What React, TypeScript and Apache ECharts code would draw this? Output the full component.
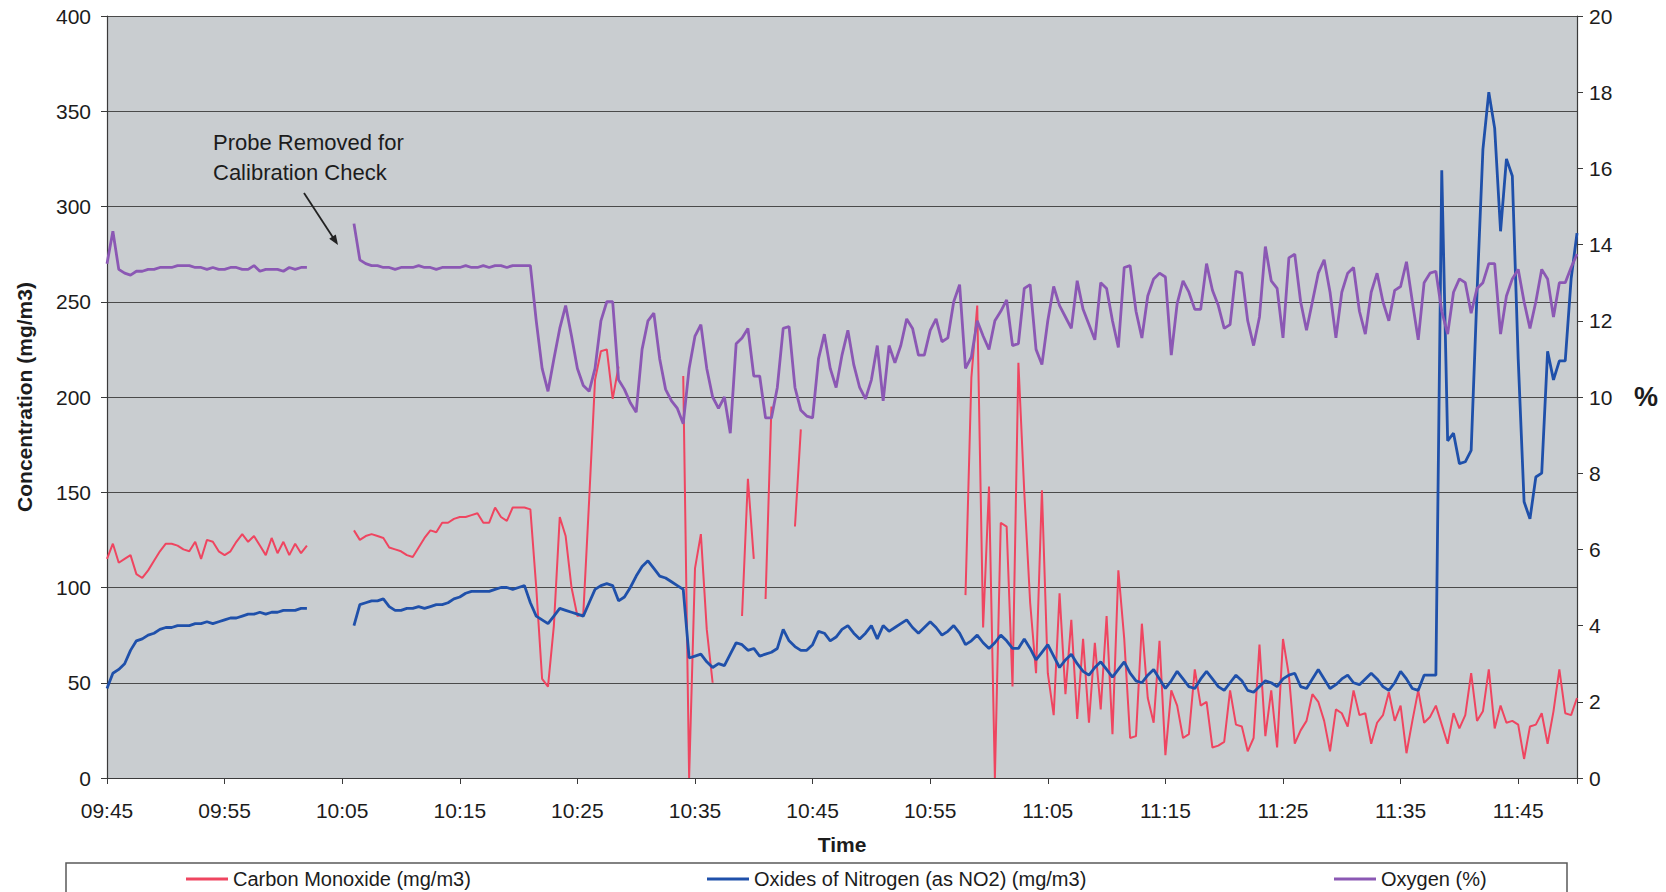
import React, { useEffect, useRef } from 'react';
import * as echarts from 'echarts';

// Readings every 30 seconds starting at 09:45 (index k -> k * 0.5 minutes after 09:45)
const SAMPLE_STEP_MIN = 0.5;
const AXIS_MAX_MIN = 125;

const timeLabels = ['09:45', '09:55', '10:05', '10:15', '10:25', '10:35', '10:45', '10:55', '11:05', '11:15', '11:25', '11:35', '11:45'];

const seriesNames = ['Carbon Monoxide (mg/m3)', 'Oxides of Nitrogen (as NO2) (mg/m3)', 'Oxygen (%)'];

// Carbon Monoxide (mg/m3), left axis
const carbonMonoxide: (number | null)[] = [
  115, 123, 113, 115, 117, 107, 105, 109, 114, 119,
  123, 123, 122, 120, 119, 124, 115, 125, 124, 119,
  117, 119, 124, 128, 124, 127, 122, 117, 126, 118,
  124, 117, 123, 118, 122, null, null, null, null, null,
  null, null, 130, 125, 127, 128, 127, 126, 121, 120,
  119, 117, 116, 121, 126, 130, 129, 134, 134, 136,
  137, 137, 138, 139, 134, 134, 142, 137, 135, 142,
  142, 142, 141, 100, 52, 48, 80, 137, 127, 100,
  85, 86, 146, 209, 224, 225, 199, 216, null, null,
  null, null, null, null, null, null, null, null, 211, 0,
  110, 128, 78, 50, null, null, null, null, 85, 157,
  115, null, 94, 195, null, null, null, 132, 183, null,
  null, null, null, null, null, null, null, null, null, null,
  null, null, null, null, null, null, null, null, null, null,
  null, null, null, null, null, null, 96, 210, 248, 79,
  153, 0, 134, 132, 48, 218, 150, 92, 55, 151,
  55, 33, 97, 44, 83, 31, 73, 29, 71, 36,
  85, 23, 109, 73, 21, 22, 81, 42, 29, 72,
  12, 46, 38, 21, 23, 57, 38, 40, 16, 17,
  19, 46, 28, 27, 14, 21, 70, 22, 46, 16,
  73, 54, 18, 25, 30, 44, 40, 30, 14, 36,
  34, 27, 46, 33, 34, 18, 29, 33, 45, 30,
  38, 13, 30, 46, 29, 32, 38, 28, 18, 34,
  26, 33, 55, 30, 35, 57, 26, 38, 29, 30,
  28, 10, 27, 28, 34, 18, 35, 57, 34, 33,
  42,
];

// Oxides of Nitrogen as NO2 (mg/m3), left axis
const nitrogenOxides: (number | null)[] = [
  47, 55, 57, 60, 67, 72, 73, 75, 76, 78,
  79, 79, 80, 80, 80, 81, 81, 82, 81, 82,
  83, 84, 84, 85, 86, 86, 87, 86, 87, 87,
  88, 88, 88, 89, 89, null, null, null, null, null,
  null, null, 80, 91, 92, 93, 93, 94, 90, 88,
  88, 89, 89, 90, 89, 90, 91, 91, 92, 94,
  95, 97, 98, 98, 98, 98, 99, 100, 100, 99,
  100, 101, 92, 85, 83, 81, 85, 89, 88, 87,
  86, 85, 92, 99, 101, 102, 101, 93, 95, 100,
  106, 111, 114, 110, 106, 105, 103, 101, 99, 63,
  64, 65, 61, 58, 60, 59, 65, 71, 70, 67,
  68, 64, 65, 66, 68, 78, 72, 69, 67, 67,
  70, 77, 76, 72, 74, 78, 80, 76, 73, 76,
  80, 73, 80, 77, 79, 81, 83, 79, 76, 79,
  82, 79, 75, 77, 80, 76, 70, 72, 75, 71,
  68, 71, 75, 72, 68, 68, 73, 68, 62, 66,
  70, 64, 58, 62, 65, 60, 56, 54, 58, 61,
  57, 53, 57, 61, 55, 51, 50, 54, 57, 52,
  47, 51, 56, 52, 48, 47, 52, 56, 52, 48,
  46, 50, 54, 51, 46, 45, 48, 51, 50, 48,
  52, 54, 55, 48, 47, 52, 57, 52, 47, 49,
  52, 54, 50, 49, 52, 55, 52, 48, 46, 50,
  56, 52, 47, 46, 54, 54, 54, 319, 177, 181,
  165, 166, 172, 255, 330, 360, 341, 287, 325, 316,
  220, 145, 136, 158, 160, 224, 209, 219, 219, 262,
  286,
];

// Oxygen (%), right axis
const oxygenPct: (number | null)[] = [
  13.5, 14.35, 13.35, 13.25, 13.2, 13.3, 13.3, 13.35, 13.35, 13.4,
  13.4, 13.4, 13.45, 13.45, 13.45, 13.4, 13.4, 13.35, 13.4, 13.35,
  13.35, 13.4, 13.4, 13.35, 13.35, 13.45, 13.3, 13.35, 13.35, 13.35,
  13.3, 13.4, 13.35, 13.4, 13.4, null, null, null, null, null,
  null, null, 14.55, 13.6, 13.5, 13.45, 13.45, 13.4, 13.4, 13.35,
  13.4, 13.4, 13.4, 13.45, 13.4, 13.4, 13.35, 13.4, 13.4, 13.4,
  13.4, 13.45, 13.4, 13.4, 13.45, 13.4, 13.45, 13.45, 13.4, 13.45,
  13.45, 13.45, 13.45, 12, 10.75, 10.15, 11, 11.8, 12.4, 11.6,
  10.75, 10.3, 10.15, 10.75, 12, 12.5, 12.5, 10.45, 10.2, 9.85,
  9.6, 11.25, 12, 12.2, 11, 10.2, 9.9, 9.7, 9.3, 10.75,
  11.6, 11.9, 10.75, 10, 9.7, 10, 9.05, 11.4, 11.55, 11.8,
  10.55, 10.55, 9.45, 9.45, 10.25, 11.8, 11.85, 10.25, 9.65, 9.5,
  9.45, 11, 11.65, 10.75, 10.25, 11.1, 11.75, 10.85, 10.25, 9.95,
  10.45, 11.35, 9.9, 11.35, 10.9, 11.35, 12.05, 11.8, 11.1, 11.1,
  11.75, 12.05, 11.45, 11.55, 12.5, 12.95, 10.75, 11.05, 12, 11.6,
  11.25, 12, 12.25, 12.55, 11.35, 11.4, 12.85, 12.95, 11.25, 10.85,
  12, 12.9, 12.4, 12.1, 11.8, 13.05, 12.3, 11.9, 11.5, 13,
  12.85, 12, 11.3, 13.4, 13.45, 12.25, 11.55, 12.65, 13.1, 13.25,
  13.15, 11.1, 12.45, 13.05, 12.75, 12.3, 12.3, 13.5, 12.8, 12.4,
  11.8, 11.9, 13.3, 13.25, 12, 11.35, 12.1, 13.95, 13.05, 12.85,
  11.55, 13.65, 13.75, 12.5, 11.75, 12.5, 13.25, 13.6, 12.75, 11.55,
  12.75, 13.25, 13.4, 12.25, 11.65, 12.75, 13.25, 12.5, 12, 12.8,
  12.9, 13.55, 12.5, 11.5, 13, 13.25, 13.3, 12.25, 11.65, 12.75,
  13.1, 13, 12.2, 12.85, 13, 13.5, 13.5, 11.65, 12.65, 13.1,
  13.35, 12.5, 11.8, 12.5, 13.35, 13.1, 12.1, 13, 13, 13.4,
  13.75,
];

const FONT = "'Liberation Sans', Arial, Helvetica, sans-serif";
const TEXT_COLOR = '#1c1c1c';
const AXIS_COLOR = '#3a3a3a';

const toPairs = (values: (number | null)[]) =>
  values.map((v, k) => [k * SAMPLE_STEP_MIN, v == null ? '-' : v]);

export default function App() {
  const ref = useRef<HTMLDivElement>(null);

  useEffect(() => {
    if (!ref.current) return;
    const chart = echarts.init(ref.current, null, { renderer: 'svg' });

    const legendBase = {
      orient: 'horizontal',
      top: 869,
      padding: 0,
      icon: 'rect',
      itemWidth: 42,
      itemHeight: 3,
      selectedMode: false,
      textStyle: { fontSize: 20, color: TEXT_COLOR, fontFamily: FONT },
    };

    chart.setOption({
      animation: false,
      backgroundColor: '#ffffff',
      textStyle: { fontFamily: FONT },
      grid: {
        left: 107,
        right: 89,
        top: 16,
        bottom: 114,
        show: true,
        backgroundColor: '#c9cdd0',
        borderWidth: 0,
      },
      xAxis: {
        type: 'value',
        min: 0,
        max: AXIS_MAX_MIN,
        interval: 10,
        axisLine: { show: true, lineStyle: { color: AXIS_COLOR, width: 1.2 } },
        axisTick: { show: true, length: 6, lineStyle: { color: AXIS_COLOR } },
        axisLabel: {
          fontSize: 21,
          color: TEXT_COLOR,
          margin: 22,
          formatter: (v: number) => {
            const idx = Math.round(v / 10);
            return Math.abs(v - idx * 10) < 1e-6 && idx < timeLabels.length ? timeLabels[idx] : '';
          },
        },
        splitLine: { show: false },
        name: 'Time',
        nameLocation: 'middle',
        nameGap: 56,
        nameTextStyle: { fontSize: 21, fontWeight: 'bold', color: TEXT_COLOR },
      },
      yAxis: [
        {
          type: 'value',
          min: 0,
          max: 400,
          interval: 50,
          position: 'left',
          axisLine: { show: true, lineStyle: { color: AXIS_COLOR, width: 1.2 } },
          axisTick: { show: true, length: 6, lineStyle: { color: AXIS_COLOR } },
          axisLabel: { fontSize: 21, color: TEXT_COLOR, margin: 16 },
          splitLine: { show: true, lineStyle: { color: '#4a4a4a', width: 1.2 } },
          name: 'Concentration (mg/m3)',
          nameLocation: 'middle',
          nameGap: 72,
          nameTextStyle: { fontSize: 21, fontWeight: 'bold', color: TEXT_COLOR },
        },
        {
          type: 'value',
          min: 0,
          max: 20,
          interval: 2,
          position: 'right',
          axisLine: { show: true, lineStyle: { color: AXIS_COLOR, width: 1.2 } },
          axisTick: { show: true, length: 6, lineStyle: { color: AXIS_COLOR } },
          axisLabel: { fontSize: 21, color: TEXT_COLOR, margin: 12 },
          splitLine: { show: false },
          name: '%',
          nameLocation: 'middle',
          nameRotate: 0,
          nameGap: 57,
          nameTextStyle: { fontSize: 27, fontWeight: 'bold', color: TEXT_COLOR },
        },
      ],
      legend: [
        { ...legendBase, left: 186, data: [seriesNames[0]] },
        { ...legendBase, left: 707, data: [seriesNames[1]] },
        { ...legendBase, left: 1334, data: [seriesNames[2]] },
      ],
      graphic: [
        {
          type: 'rect',
          z: 0,
          shape: { x: 66, y: 863, width: 1501, height: 40 },
          style: { fill: '#ffffff', stroke: '#5a5a5a', lineWidth: 1.5 },
        },
        {
          type: 'text',
          left: 213,
          top: 127,
          z: 10,
          style: {
            text: 'Probe Removed for\nCalibration Check',
            font: `22px ${FONT}`,
            fill: TEXT_COLOR,
            lineHeight: 30,
          },
        },
        {
          type: 'line',
          z: 10,
          shape: { x1: 304, y1: 193, x2: 334, y2: 239 },
          style: { stroke: '#222222', lineWidth: 1.8 },
        },
        {
          type: 'polygon',
          z: 10,
          shape: { points: [[338, 245], [329.2, 238.8], [335.8, 234.4]] },
          style: { fill: '#222222' },
        },
      ],
      series: [
        {
          name: seriesNames[0],
          type: 'line',
          yAxisIndex: 0,
          showSymbol: false,
          connectNulls: false,
          color: '#ef4560',
          lineStyle: { width: 2, color: '#ef4560' },
          data: toPairs(carbonMonoxide),
          z: 2,
        },
        {
          name: seriesNames[1],
          type: 'line',
          yAxisIndex: 0,
          showSymbol: false,
          connectNulls: false,
          color: '#1f50aa',
          lineStyle: { width: 2.8, color: '#1f50aa' },
          data: toPairs(nitrogenOxides),
          z: 3,
        },
        {
          name: seriesNames[2],
          type: 'line',
          yAxisIndex: 1,
          showSymbol: false,
          connectNulls: false,
          color: '#8b58b4',
          lineStyle: { width: 2.8, color: '#8b58b4' },
          data: toPairs(oxygenPct),
          z: 4,
        },
      ],
    });

    return () => chart.dispose();
  }, []);

  return (
    <div
      ref={ref}
      style={{ position: 'fixed', left: 0, top: 0, width: 1666, height: 892 }}
    />
  );
}
